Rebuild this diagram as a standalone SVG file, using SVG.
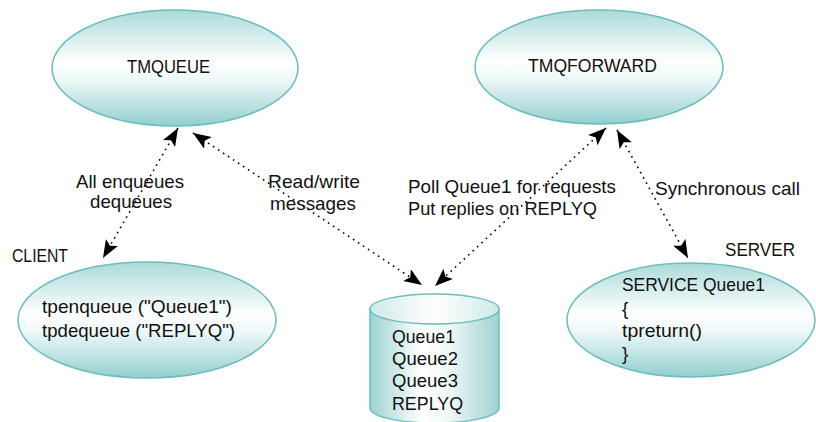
<svg xmlns="http://www.w3.org/2000/svg" width="816" height="422" viewBox="0 0 816 422">
  <defs>
    <linearGradient id="ellGrad" x1="0" y1="0" x2="0" y2="1">
      <stop offset="0" stop-color="#acdada"/>
      <stop offset="0.45" stop-color="#ffffff"/>
      <stop offset="0.6" stop-color="#eef8f8"/>
      <stop offset="1" stop-color="#93cfcf"/>
    </linearGradient>
    <linearGradient id="cylGrad" x1="0" y1="0" x2="1" y2="0">
      <stop offset="0" stop-color="#9ed2d2"/>
      <stop offset="0.4" stop-color="#ffffff"/>
      <stop offset="0.6" stop-color="#f1f9f9"/>
      <stop offset="1" stop-color="#9ed2d2"/>
    </linearGradient>
    <linearGradient id="cylTop" x1="0" y1="0" x2="1" y2="0">
      <stop offset="0" stop-color="#cfeaea"/>
      <stop offset="0.5" stop-color="#ffffff"/>
      <stop offset="1" stop-color="#cfeaea"/>
    </linearGradient>
    <marker id="arr" viewBox="0 0 18 14" refX="18" refY="7" markerWidth="18" markerHeight="14" markerUnits="userSpaceOnUse" orient="auto-start-reverse">
      <path d="M0,0 L18,7 L0,14 L4,7 Z" fill="#000"/>
    </marker>
  </defs>
  <style>
    .node { fill: url(#ellGrad); stroke: #6cbdbd; stroke-width: 1.5; }
    .cyl { fill: url(#cylGrad); stroke: #6cbdbd; stroke-width: 1.5; }
    .cyltop { fill: url(#cylTop); stroke: #6cbdbd; stroke-width: 1.5; }
    text { font-family: "Liberation Sans", Arial, sans-serif; font-size: 19px; fill: #111; }
    .conn { fill: none; stroke: #000; stroke-width: 1.6; stroke-dasharray: 1.6 4.4; marker-start: url(#arr); marker-end: url(#arr); }
  </style>
  <rect width="816" height="422" fill="#fff"/>

  <g id="tmqueue">
    <ellipse class="node" cx="175" cy="68" rx="123" ry="58"/>
    <text x="127" y="73" textLength="83" lengthAdjust="spacingAndGlyphs">TMQUEUE</text>
  </g>

  <g id="tmqforward">
    <ellipse class="node" cx="599" cy="67" rx="124" ry="57"/>
    <text x="528" y="72" textLength="129" lengthAdjust="spacingAndGlyphs">TMQFORWARD</text>
  </g>

  <g id="client">
    <text x="12" y="262" textLength="56" lengthAdjust="spacingAndGlyphs">CLIENT</text>
    <ellipse class="node" cx="147" cy="320" rx="129" ry="58"/>
    <text x="42" y="313" textLength="190" lengthAdjust="spacingAndGlyphs">tpenqueue ("Queue1")</text>
    <text x="42" y="337" textLength="193" lengthAdjust="spacingAndGlyphs">tpdequeue ("REPLYQ")</text>
  </g>

  <g id="server">
    <text x="725" y="256" textLength="70" lengthAdjust="spacingAndGlyphs">SERVER</text>
    <ellipse class="node" cx="691" cy="320" rx="124" ry="57"/>
    <text x="622" y="291" textLength="143" lengthAdjust="spacingAndGlyphs">SERVICE Queue1</text>
    <text x="622" y="315">{</text>
    <text x="622" y="337" textLength="80" lengthAdjust="spacingAndGlyphs">tpreturn()</text>
    <text x="622" y="360">}</text>
  </g>

  <g id="queues">
    <path class="cyl" d="M370,309 L370,408 A64.5,15 0 0 0 499,408 L499,309 Z"/>
    <ellipse class="cyltop" cx="434.5" cy="309" rx="64.5" ry="15"/>
    <text x="392" y="343" textLength="63" lengthAdjust="spacingAndGlyphs">Queue1</text>
    <text x="392" y="365" textLength="66" lengthAdjust="spacingAndGlyphs">Queue2</text>
    <text x="392" y="387" textLength="66" lengthAdjust="spacingAndGlyphs">Queue3</text>
    <text x="392" y="410" textLength="71" lengthAdjust="spacingAndGlyphs">REPLYQ</text>
  </g>

  <g id="connectors">
    <text x="76" y="188" textLength="108" lengthAdjust="spacingAndGlyphs">All enqueues</text>
    <text x="90" y="208" textLength="82" lengthAdjust="spacingAndGlyphs">dequeues</text>
    <text x="268" y="188" textLength="92" lengthAdjust="spacingAndGlyphs">Read/write</text>
    <text x="270" y="210" textLength="86" lengthAdjust="spacingAndGlyphs">messages</text>
    <text x="408" y="193" textLength="208" lengthAdjust="spacingAndGlyphs">Poll Queue1  for requests</text>
    <text x="408" y="215" textLength="189" lengthAdjust="spacingAndGlyphs">Put replies on REPLYQ</text>
    <text x="655" y="195" textLength="145" lengthAdjust="spacingAndGlyphs">Synchronous call</text>
    <line class="conn" x1="178" y1="128" x2="103" y2="258"/>
    <line class="conn" x1="193" y1="133" x2="422" y2="285"/>
    <line class="conn" x1="606" y1="128" x2="435" y2="286"/>
    <line class="conn" x1="617" y1="130" x2="688" y2="258"/>
  </g>
</svg>
